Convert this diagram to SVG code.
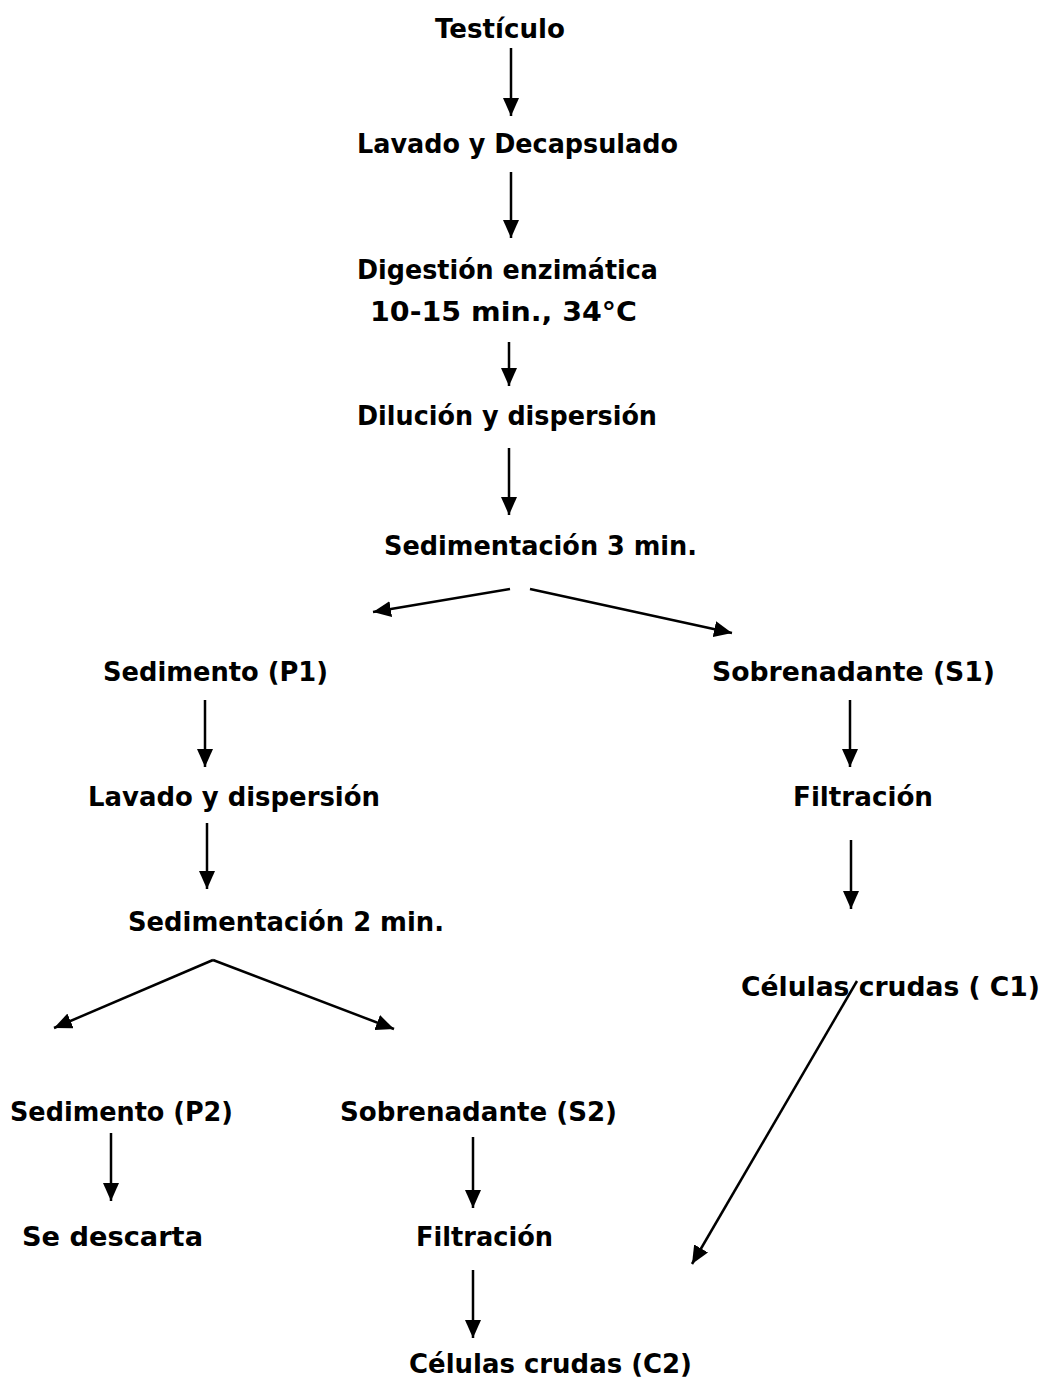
<svg xmlns="http://www.w3.org/2000/svg" width="1047" height="1378" viewBox="0 0 1047 1378">
<defs>
<style>
text{font-family:"Comic Sans MS","DejaVu Sans","Liberation Sans",sans-serif;font-weight:bold;font-size:26px;fill:#000;}
.c line{stroke:#000;stroke-width:2.5;marker-end:url(#ah);}
</style>
<marker id="ah" viewBox="0 0 18 16" refX="18" refY="8" markerWidth="18" markerHeight="16" markerUnits="userSpaceOnUse" orient="auto">
<path d="M0,0 L18,8 L0,16 z" fill="#000"/>
</marker>
</defs>
<rect width="1047" height="1378" fill="#fff"/>
<g id="n1"><text x="435" y="38" textLength="130" lengthAdjust="spacingAndGlyphs">Testículo</text></g>
<g id="n2"><text x="357" y="153" textLength="321" lengthAdjust="spacingAndGlyphs">Lavado y Decapsulado</text></g>
<g id="n3"><text x="357" y="279" textLength="301" lengthAdjust="spacingAndGlyphs">Digestión enzimática</text><text x="370" y="321" textLength="267" lengthAdjust="spacingAndGlyphs">10-15 min., 34°C</text></g>
<g id="n4"><text x="357" y="425" textLength="300" lengthAdjust="spacingAndGlyphs">Dilución y dispersión</text></g>
<g id="n5"><text x="384" y="555" textLength="313" lengthAdjust="spacingAndGlyphs">Sedimentación 3 min.</text></g>
<g id="n6"><text x="103" y="681" textLength="225" lengthAdjust="spacingAndGlyphs">Sedimento (P1)</text></g>
<g id="n7"><text x="712" y="681" textLength="283" lengthAdjust="spacingAndGlyphs">Sobrenadante (S1)</text></g>
<g id="n8"><text x="88" y="806" textLength="292" lengthAdjust="spacingAndGlyphs">Lavado y dispersión</text></g>
<g id="n9"><text x="793" y="806" textLength="140" lengthAdjust="spacingAndGlyphs">Filtración</text></g>
<g id="n10"><text x="128" y="931" textLength="316" lengthAdjust="spacingAndGlyphs">Sedimentación 2 min.</text></g>
<g id="n11"><text x="741" y="996" textLength="299" lengthAdjust="spacingAndGlyphs">Células crudas ( C1)</text></g>
<g id="n12"><text x="10" y="1121" textLength="223" lengthAdjust="spacingAndGlyphs">Sedimento (P2)</text></g>
<g id="n13"><text x="340" y="1121" textLength="277" lengthAdjust="spacingAndGlyphs">Sobrenadante (S2)</text></g>
<g id="n14"><text x="22" y="1246" textLength="181" lengthAdjust="spacingAndGlyphs">Se descarta</text></g>
<g id="n15"><text x="416" y="1246" textLength="137" lengthAdjust="spacingAndGlyphs">Filtración</text></g>
<g id="n16"><text x="409" y="1373" textLength="283" lengthAdjust="spacingAndGlyphs">Células crudas (C2)</text></g>
<g id="connectors" class="c">
<line x1="511" y1="48" x2="511" y2="116"/>
<line x1="511" y1="172" x2="511" y2="238"/>
<line x1="509" y1="342" x2="509" y2="386"/>
<line x1="509" y1="448" x2="509" y2="515"/>
<line x1="510" y1="589" x2="373" y2="612"/>
<line x1="530" y1="589" x2="732" y2="633"/>
<line x1="205" y1="700" x2="205" y2="767"/>
<line x1="850" y1="700" x2="850" y2="767"/>
<line x1="207" y1="823" x2="207" y2="889"/>
<line x1="851" y1="840" x2="851" y2="909"/>
<line x1="213" y1="960" x2="54" y2="1028"/>
<line x1="213" y1="960" x2="394" y2="1029"/>
<line x1="857" y1="981" x2="692" y2="1264"/>
<line x1="111" y1="1133" x2="111" y2="1201"/>
<line x1="473" y1="1137" x2="473" y2="1208"/>
<line x1="473" y1="1270" x2="473" y2="1338"/>
</g>
</svg>
